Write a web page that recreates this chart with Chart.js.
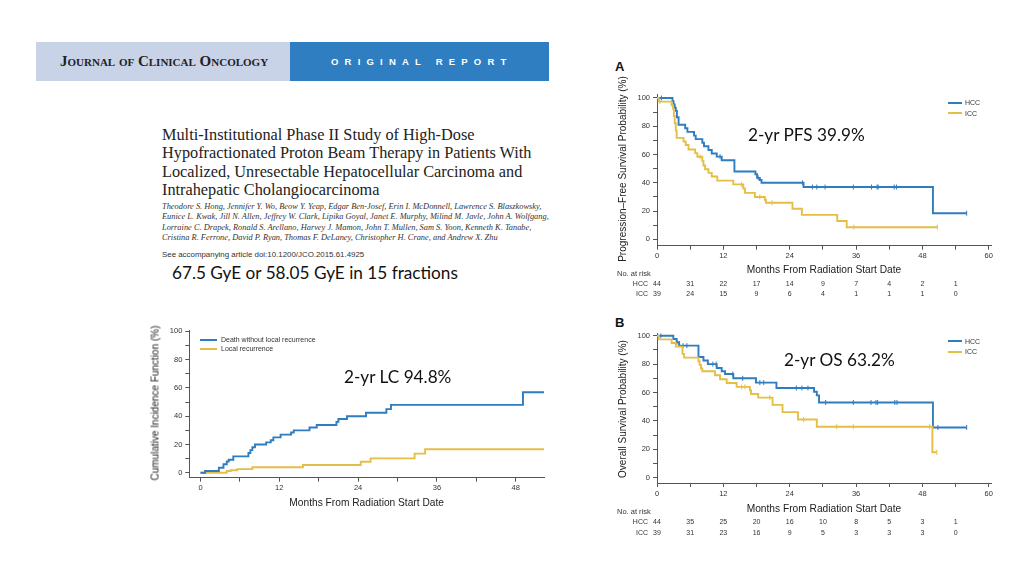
<!DOCTYPE html>
<html>
<head>
<meta charset="utf-8">
<script src="https://cdn.jsdelivr.net/npm/chart.js@4.4.1/dist/chart.umd.min.js"></script>
<style>
    body { margin: 0; background: #fff; }
    #page { position: relative; width: 1024px; height: 576px; overflow: hidden; background: #fff; font-family: "Liberation Sans", Arial, sans-serif; }
    .abs { position: absolute; white-space: nowrap; }
    canvas { position: absolute; }
    .ytitle { position: absolute; white-space: nowrap; font-size: 10px; color: #222; transform: translate(-50%, -50%) rotate(-90deg); z-index: 2; }
    .note { position: absolute; white-space: nowrap; font-family: Lato, "Open Sans", sans-serif; font-size: 17.2px; line-height: 20px; color: #111; }
    .leg { position: absolute; white-space: nowrap; font-size: 7px; line-height: 9px; color: #333; }
    .legline { position: absolute; height: 2px; }
</style>
</head>
<body>
<div id="page">
    <!-- journal header -->
    <div class="abs" style="left:36px;top:42px;width:254px;height:39px;background:#c9d3e8"></div>
    <div class="abs" style="left:290px;top:42px;width:259px;height:39px;background:#2f7ec1"></div>
    <div class="abs" style="left:60px;top:52px;line-height:19px;font-family:'Liberation Serif',serif;font-weight:bold;font-size:15px;font-variant:small-caps;color:#222">Journal of Clinical Oncology</div>
    <div class="abs" style="left:331px;top:56px;line-height:11px;font-weight:bold;font-size:9.5px;letter-spacing:6.2px;color:#fff">ORIGINAL REPORT</div>

    <div class="abs" style="left:162px;top:126px;font-family:'Liberation Serif',serif;font-size:16.3px;line-height:18.3px;color:#222">Multi-Institutional Phase II Study of High-Dose<br>Hypofractionated Proton Beam Therapy in Patients With<br>Localized, Unresectable Hepatocellular Carcinoma and<br>Intrahepatic Cholangiocarcinoma</div>
    <div class="abs" style="left:162px;top:202px;font-family:'Liberation Serif',serif;font-style:italic;font-size:8.4px;line-height:10.3px;color:#333">Theodore S. Hong, Jennifer Y. Wo, Beow Y. Yeap, Edgar Ben-Josef, Erin I. McDonnell, Lawrence S. Blaszkowsky,<br>Eunice L. Kwak, Jill N. Allen, Jeffrey W. Clark, Lipika Goyal, Janet E. Murphy, Milind M. Javle, John A. Wolfgang,<br>Lorraine C. Drapek, Ronald S. Arellano, Harvey J. Mamon, John T. Mullen, Sam S. Yoon, Kenneth K. Tanabe,<br>Cristina R. Ferrone, David P. Ryan, Thomas F. DeLaney, Christopher H. Crane, and Andrew X. Zhu</div>
    <div class="abs" style="left:162px;top:248.5px;font-size:7.9px;line-height:11px;color:#333">See accompanying article doi:10.1200/JCO.2015.61.4925</div>

    <div class="note" style="left:172px;top:263px">67.5 GyE or 58.05 GyE in 15 fractions</div>

    <!-- panel labels and annotations -->
    <div class="abs" style="left:615px;top:59px;font-weight:bold;font-size:13px;line-height:15px;color:#111">A</div>
    <div class="abs" style="left:615px;top:315px;font-weight:bold;font-size:13px;line-height:15px;color:#111">B</div>

    <canvas id="pfsChart" width="400" height="250" style="left:600px;top:55px"></canvas>
    <canvas id="osChart" width="400" height="240" style="left:600px;top:310px"></canvas>
    <canvas id="lcChart" width="420" height="200" style="left:140px;top:315px"></canvas>

    <div class="ytitle" style="left:622px;top:169px">Progression–Free Survival Probability (%)</div>
    <div class="ytitle" style="left:622px;top:409px">Overall Survival Probability (%)</div>
    <div class="ytitle" style="left:155px;top:403px">Cumulative Incidence Function (%)</div>

    <div class="note" style="left:748px;top:125px">2-yr PFS 39.9%</div>
    <div class="note" style="left:784px;top:350px">2-yr OS 63.2%</div>
    <div class="note" style="left:344px;top:367px">2-yr LC 94.8%</div>

    <!-- legends -->
    <div class="legline" style="left:948px;top:102px;width:14px;background:#2f7cbf"></div>
    <div class="leg" style="left:965px;top:98px">HCC</div>
    <div class="legline" style="left:948px;top:112px;width:14px;background:#e5bf45"></div>
    <div class="leg" style="left:965px;top:108.5px">ICC</div>
    <div class="legline" style="left:948px;top:340px;width:14px;background:#2f7cbf"></div>
    <div class="leg" style="left:965px;top:336.5px">HCC</div>
    <div class="legline" style="left:948px;top:351px;width:14px;background:#e5bf45"></div>
    <div class="leg" style="left:965px;top:347px">ICC</div>
    <div class="legline" style="left:200px;top:339px;width:17px;background:#2f7cbf"></div>
    <div class="leg" style="left:221px;top:335px">Death without local recurrence</div>
    <div class="legline" style="left:200px;top:347.5px;width:17px;background:#e5bf45"></div>
    <div class="leg" style="left:221px;top:344px">Local recurrence</div>
</div>

<script>
// Progression-free survival (panel A)
const pfsHccMonths = [0, 2.8, 3.0, 3.2, 3.4, 3.6, 3.9, 5.1, 5.5, 6.7, 7.0, 8.2, 8.5, 9.3, 9.9, 10.8, 11.7, 14.0, 17.8, 18.1, 18.6, 18.9, 26.5, 49.9, 56.0]
const pfsHccPct = [100, 97.7, 95.5, 93.2, 90.9, 86.4, 81.1, 78.6, 76.0, 73.4, 70.9, 68.3, 65.8, 63.2, 60.7, 58.5, 56.0, 48.0, 46.0, 43.5, 42.0, 40.0, 37.0, 18.5, 18.5]
const pfsHccCensor = [0.8, 11.4, 18.3, 26.3, 28.1, 28.9, 30.4, 35.5, 38.8, 39.8, 40.0, 42.9, 43.3, 56.0]
const pfsIccMonths = [0, 0.3, 2.65, 2.9, 3.05, 3.2, 3.4, 3.55, 4.8, 5.2, 5.7, 6.9, 7.3, 8.2, 8.4, 8.7, 9.3, 9.9, 10.9, 13.8, 15.6, 15.9, 17.7, 19.5, 19.7, 24.5, 26.2, 32.6, 34.3, 50.7]
const pfsIccPct = [100, 97.4, 94.9, 92.3, 87.2, 82.1, 76.9, 71.8, 69.2, 66.7, 63.6, 61.0, 58.4, 55.3, 52.2, 49.6, 47.0, 44.4, 41.5, 38.9, 36.0, 32.9, 30.0, 28.0, 25.9, 21.6, 17.3, 13.0, 8.6, 8.6]
const pfsIccCensor = [0.5, 7.8, 15.3, 18.6, 20.8, 35.6, 50.7]
const pfsHccAtRisk = [44, 31, 22, 17, 14, 9, 7, 4, 2, 1]
const pfsIccAtRisk = [39, 24, 15, 9, 6, 4, 1, 1, 1, 0]

// Overall survival (panel B)
const osHccMonths = [0, 2.95, 3.55, 4.0, 7.5, 8.4, 9.2, 10.8, 11.7, 12.3, 13.8, 17.9, 21.6, 28.4, 28.9, 29.3, 49.9, 56.0]
const osHccPct = [100, 97.7, 95.4, 93.0, 85.0, 82.5, 80.0, 77.3, 75.0, 73.0, 70.0, 67.0, 63.2, 60.5, 58.0, 53.0, 35.4, 35.4]
const osHccCensor = [0.7, 3.6, 4.7, 5.4, 10.1, 10.7, 13.7, 15.5, 18.6, 19.3, 25.2, 26.2, 27.3, 30.5, 35.5, 38.7, 39.6, 39.9, 43.0, 43.4, 50.8, 56.0]
const osIccMonths = [0, 0.3, 2.65, 3.4, 4.6, 4.9, 7.5, 7.7, 7.95, 8.2, 10.5, 11.4, 12.6, 14.4, 16.8, 17.0, 18.3, 20.9, 22.7, 25.5, 28.9, 49.8, 50.6]
const osIccPct = [100, 97.4, 94.9, 92.3, 87.2, 84.6, 82.0, 79.5, 76.9, 75.0, 72.2, 69.4, 66.7, 64.0, 61.5, 59.0, 56.4, 51.3, 46.2, 41.0, 35.9, 17.9, 17.9]
const osIccCensor = [15.3, 15.9, 20.4, 26.5, 32.5, 35.5, 49.3, 50.6]
const osHccAtRisk = [44, 35, 25, 20, 16, 10, 8, 5, 3, 1]
const osIccAtRisk = [39, 31, 23, 16, 9, 5, 3, 3, 3, 0]

// Cumulative incidence (local control)
const deathMonths = [0, 0.7, 2.8, 3.5, 4.0, 4.3, 5.0, 7.3, 7.6, 7.9, 8.3, 10.0, 10.7, 11.1, 12.2, 13.8, 14.2, 16.6, 17.7, 20.7, 21.0, 22.3, 25.2, 28.3, 29.0, 49.1, 52.3]
const deathPct = [0, 1.2, 3.5, 6.0, 8.0, 9.2, 11.6, 14.0, 16.0, 18.0, 20.0, 21.5, 23.0, 25.0, 27.0, 28.5, 30.0, 32.0, 33.8, 36.0, 38.0, 40.0, 42.5, 45.0, 48.0, 57.0, 57.0]
const localMonths = [0, 4.0, 4.6, 5.6, 7.9, 15.6, 24.4, 25.9, 32.6, 34.2, 52.3]
const localPct = [0, 1.2, 1.8, 2.6, 3.9, 5.5, 7.8, 10.2, 13.5, 16.6, 16.6]

const atRiskMonths = [0, 6, 12, 18, 24, 30, 36, 42, 48, 54]
const kmMonthTicks = [0, 6, 12, 18, 24, 30, 36, 42, 48, 54, 60]
const lcMonthTicks = [0, 6, 12, 18, 24, 30, 36, 42, 48]
const pctTicks = [0, 10, 20, 30, 40, 50, 60, 70, 80, 90, 100]

const BLUE = '#2f7cbf'
const YELLOW = '#e5bf45'
const FONT = '"Liberation Sans", Arial, sans-serif'

const toPoints = (xs, ys) => xs.map((x, i) => ({x: x, y: ys[i]}));

// value of the step curve at month t
const stepAt = (xs, ys, t) => {
    let v = ys[0];
    xs.forEach((x, i) => { if (x <= t) v = ys[i] });
    return v;
}

const curve = (xs, ys, color) => ({
    data: toPoints(xs, ys),
    borderColor: color,
    borderWidth: 1.9,
    stepped: true,
    pointRadius: 0,
    fill: false
})

const censorMarks = (times, xs, ys, color) => ({
    data: times.map(t => ({x: t, y: stepAt(xs, ys, t)})),
    showLine: false,
    pointStyle: 'line',
    rotation: 90,
    pointRadius: 2.5,
    pointBorderWidth: 1,
    pointBorderColor: color,
    borderColor: color
})

const atRiskPlugin = {
    id: 'atRisk',
    afterDraw: (chart, args, opts) => {
        if (!opts.rows) return;
        const ctx = chart.ctx;
        const xScale = chart.scales.x;
        ctx.save();
        ctx.fillStyle = '#333';
        ctx.textBaseline = 'middle';
        ctx.font = '7.5px ' + FONT;
        ctx.textAlign = 'left';
        ctx.fillText('No. at risk', opts.left, opts.headY);
        ctx.font = '7px ' + FONT;
        opts.rows.forEach(row => {
            ctx.textAlign = 'right';
            ctx.fillText(row.label, opts.labelRight, row.y);
            ctx.textAlign = 'center';
            row.values.forEach((n, i) => ctx.fillText(n, xScale.getPixelForValue(atRiskMonths[i]), row.y));
        });
        ctx.restore();
    }
}
Chart.register(atRiskPlugin);

const makeChart = (id, datasets, o) => {
    return new Chart(document.getElementById(id), {
        type: 'line',
        data: {datasets: datasets},
        options: {
            responsive: false,
            animation: false,
            layout: {padding: {left: 0, top: o.top, right: o.right, bottom: 0}},
            plugins: {
                legend: {display: false},
                tooltip: {enabled: false},
                atRisk: o.atRisk || {}
            },
            scales: {
                x: {
                    type: 'linear',
                    min: o.xMin,
                    max: o.xMax,
                    afterBuildTicks: s => { s.ticks = o.xTicks.map(v => ({value: v})) },
                    afterFit: s => { s.height = o.xHeight },
                    ticks: {
                        autoSkip: false,
                        maxRotation: 0,
                        padding: 2,
                        color: '#333',
                        font: {family: FONT, size: 7.5},
                        callback: v => v % 12 === 0 ? v : ''
                    },
                    grid: {drawOnChartArea: false, tickLength: 4, color: '#555'},
                    border: {color: '#555', width: 1},
                    title: {
                        display: true,
                        text: 'Months From Radiation Start Date',
                        color: '#222',
                        font: {family: FONT, size: 10.2},
                        padding: {top: 0, bottom: o.xTitlePad}
                    }
                },
                y: {
                    min: o.yMin,
                    max: o.yMax,
                    afterBuildTicks: s => { s.ticks = pctTicks.map(v => ({value: v})) },
                    afterFit: s => { s.width = o.yWidth },
                    ticks: {
                        autoSkip: false,
                        padding: 3,
                        color: '#333',
                        font: {family: FONT, size: 7.5},
                        callback: v => v % 20 === 0 ? v : ''
                    },
                    grid: {drawOnChartArea: false, tickLength: 4, color: '#555'},
                    border: {color: '#555', width: 1}
                }
            }
        }
    });
}

makeChart('pfsChart', [
    curve(pfsIccMonths, pfsIccPct, YELLOW),
    censorMarks(pfsIccCensor, pfsIccMonths, pfsIccPct, YELLOW),
    curve(pfsHccMonths, pfsHccPct, BLUE),
    censorMarks(pfsHccCensor, pfsHccMonths, pfsHccPct, BLUE)
], {
    top: 39.3, right: 9, yWidth: 57, xHeight: 59.3, xTitlePad: 29,
    xMin: 0, xMax: 60.4, yMin: -4.5, yMax: 102.6, xTicks: kmMonthTicks,
    atRisk: {left: 17, labelRight: 48, headY: 219, rows: [
        {label: 'HCC', values: pfsHccAtRisk, y: 228.7},
        {label: 'ICC', values: pfsIccAtRisk, y: 238.7}
    ]}
});

makeChart('osChart', [
    curve(osIccMonths, osIccPct, YELLOW),
    censorMarks(osIccCensor, osIccMonths, osIccPct, YELLOW),
    curve(osHccMonths, osHccPct, BLUE),
    censorMarks(osHccCensor, osHccMonths, osHccPct, BLUE)
], {
    top: 23.3, right: 9, yWidth: 57, xHeight: 67, xTitlePad: 35,
    xMin: 0, xMax: 60.4, yMin: -3.7, yMax: 101.7, xTicks: kmMonthTicks,
    atRisk: {left: 17, labelRight: 48, headY: 201.7, rows: [
        {label: 'HCC', values: osHccAtRisk, y: 212},
        {label: 'ICC', values: osIccAtRisk, y: 222.7}
    ]}
});

makeChart('lcChart', [
    curve(deathMonths, deathPct, BLUE),
    curve(localMonths, localPct, YELLOW)
], {
    top: 15, right: 16, yWidth: 49.3, xHeight: 37.3, xTitlePad: 5.7,
    xMin: -1.7, xMax: 52.3, yMin: -3.5, yMax: 101, xTicks: lcMonthTicks
});
</script>
</body>
</html>
